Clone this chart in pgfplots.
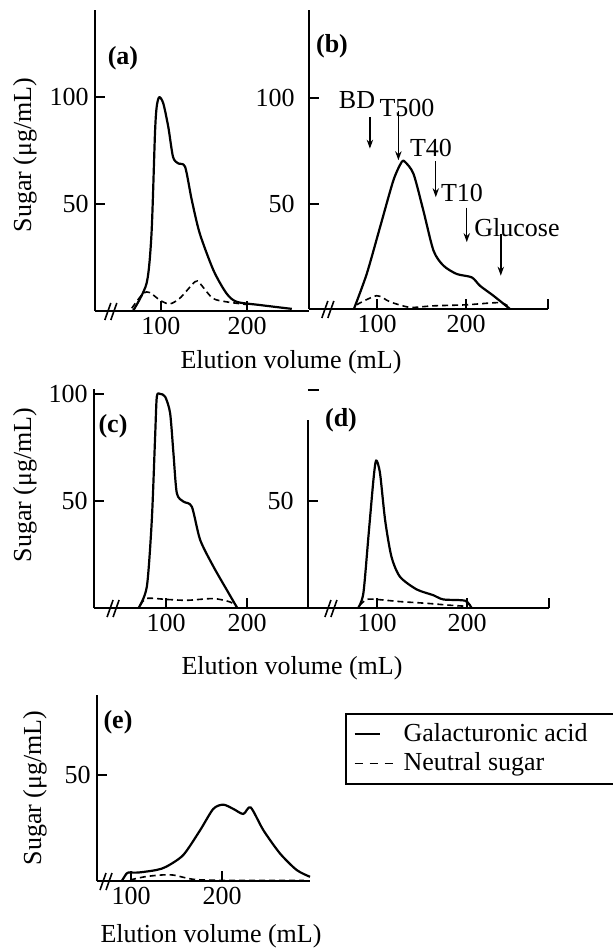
\documentclass[border=0pt]{standalone}
\usepackage{fontspec}
\setmainfont{Liberation Serif}
\usepackage{pgfplots}
\pgfplotsset{compat=1.18}
\usetikzlibrary{arrows.meta}
\pgfplotsset{
  panel/.style={
    scale only axis, anchor=south west, clip=false,
    axis lines*=left,
    axis line style={line width=1.2pt},
    tick align=inside,
    major tick length=5pt,
    every tick/.style={black, line width=1pt},
    ymin=0, xtick={100,200},
    /pgf/number format/assume math mode=true,
    font=\fontsize{13}{15.6}\selectfont,
    yticklabel style={inner xsep=3pt},
    xticklabel style={inner ysep=3pt},
  },
  ga/.style={black, line width=1.1pt, smooth, tension=0.45, line join=round},
  ns/.style={black, line width=0.8pt, smooth, tension=0.45, dash pattern=on 3pt off 2pt},
}
\newcommand\brk[1]{%
  \draw[line width=0.8pt] ([xshift=-4pt,yshift=-4.5pt]axis cs:#1,0) -- ([xshift=-1pt,yshift=4pt]axis cs:#1,0);
  \draw[line width=0.8pt] ([xshift=-1pt,yshift=-4.5pt]axis cs:#1,0) -- ([xshift=2pt,yshift=4pt]axis cs:#1,0);}
\tikzset{arr/.style={-{Stealth[length=4.5pt,width=3.2pt]}, line width=0.7pt}}
\begin{document}
\begin{tikzpicture}[font=\fontsize{13}{15.6}\selectfont]
\path[use as bounding box] (0pt,0pt) rectangle (306.5pt,-475pt);

% (a)
\begin{axis}[panel, at={(47.5pt,-155.5pt)}, width=107pt, height=150.5pt,
  xmin=23.3, xmax=272, ymax=140.7, ytick={50,100}]
\addplot[ga] coordinates {(67.4,0)(83.3,13)(89,36.4)(93,83)(95,95.5)(98,100)(102.7,97)(108.5,86)(114,72)(120,69)(128,67.4)(135.7,52)(145,36.3)(161,19)(176,8.3)(188,4.3)(215,2.8)(252,1)};
\addplot[ns] coordinates {(66,1.3)(79.4,8.3)(87,8.6)(99,5)(110,3.3)(122,6)(139.5,13.7)(145,13)(160,6)(176,4.3)(200,3)};
\brk{44}
\end{axis}

% (b)
\begin{axis}[panel, at={(154.5pt,-154.5pt)}, width=119.5pt, height=149.5pt,
  xmin=23.6, xmax=292, ymax=141.7, ytick={50,100},
  extra x ticks={292}, extra x tick labels={},
  yticklabel style={xshift=-4pt}]
\addplot[ga] coordinates {(74,0)(88.4,16.6)(103.4,38.8)(118.4,61)(127.7,69.7)(131.5,69.7)(141,64)(152,46.7)(163.4,27.7)(174.5,20.6)(189.5,16.6)(206.4,15)(215.7,11)(230.7,6.3)(249.4,0)};
\addplot[ns] coordinates {(77,2)(99.6,6.3)(114.6,3.4)(137,0.8)(163,1.5)(200.8,2)(238,3)(250,0.5)};
\draw[arr] (axis cs:92,91) -- (axis cs:92,76);
\draw[arr] (axis cs:124,94) -- (axis cs:124,70.5);
\draw[arr] (axis cs:166,70) -- (axis cs:166,53);
\draw[arr] (axis cs:200.8,48) -- (axis cs:200.8,31.7);
\draw[arr] (axis cs:239,35.7) -- (axis cs:239,15.8);
\brk{47}
\end{axis}

% (c)
\begin{axis}[panel, at={(47pt,-304pt)}, width=107pt, height=109.5pt,
  xmin=11, xmax=275, ymax=102.3, ytick={50,100}]
\addplot[ga] coordinates {(66,0)(76.2,10)(82.3,41)(86.4,80)(88.5,98.7)(92.6,100)(98.8,98.7)(104.9,91)(109,72.3)(113.2,53.6)(121.4,49.7)(131.7,47.3)(142,31.8)(158.4,19.3)(174.9,8.4)(187.3,0.3)};
\addplot[ns] coordinates {(67.9,1.3)(76.2,4.5)(100.9,4)(125.6,3.6)(158.4,4.4)(179,2.8)(187.3,0.6)};
\brk{37}
\end{axis}

% (d)
\begin{axis}[panel, at={(154pt,-304pt)}, width=120.5pt, height=94pt,
  xmin=23.3, xmax=291, ymax=87.9, ytick={50},
  extra x ticks={291}, extra x tick labels={},
  yticklabel style={xshift=-4pt}]
\addplot[ga] coordinates {(79,0)(84.8,6.9)(90.4,33.3)(96,60)(99,69)(103.3,63)(109,41)(116,24)(125.5,14.6)(144,8.7)(162.5,6)(173.7,4)(197.8,3.4)(205,0)};
\addplot[ns] coordinates {(80.7,1.3)(88.5,4)(100,4)(125.5,3)(155,2.2)(181,1.3)(199.6,0.8)};
\draw[line width=1pt] (axis cs:23.3,102) -- ++(5.5pt,0pt);
\brk{51}
\end{axis}

% (e)
\begin{axis}[panel, at={(48.5pt,-440.5pt)}, width=106.5pt, height=93pt,
  xmin=62.6, xmax=296.7, ymax=87.7, ytick={50},
  legend cell align=left,
  legend style={at={(1.164,0.903)}, anchor=north west, draw=black, line width=0.8pt,
    inner xsep=4pt, inner ysep=3pt, row sep=0pt,
    font=\fontsize{13}{15.6}\selectfont}]
\addlegendimage{legend image code/.code={\draw[black, line width=1pt] (0pt,0pt) -- (12.5pt,0pt); \path (22pt,0pt);}}
\addlegendentry{Galacturonic acid\kern12pt}
\addlegendimage{legend image code/.code={\draw[black, line width=0.8pt, dash pattern=on 4pt off 3.5pt] (0pt,0pt) -- (22pt,0pt);}}
\addlegendentry{Neutral sugar}
\addplot[ga, forget plot] coordinates {(89.8,0)(95,3.5)(97,4)(108,4)(128,5.2)(139,6.8)(157.5,12.3)(176,24)(190.4,34)(201.4,36)(212.4,34)(223.4,31.6)(231.5,34.7)(245.4,24)(263.7,13)(282,5.2)(296.7,2)};
\addplot[ns, forget plot] coordinates {(99,0.5)(115,2)(132,2.8)(146.5,2.8)(168.5,0.8)(200,0.3)(290,0.3)};
\brk{74.7}
\end{axis}

% axis titles
\node[rotate=90] at (12.5pt,-77.5pt) {Sugar (μg/mL)};
\node[rotate=90] at (12.5pt,-242.5pt) {Sugar (μg/mL)};
\node[rotate=90] at (17.5pt,-394pt) {Sugar (μg/mL)};
\node at (145.5pt,-181pt) {Elution volume (mL)};
\node at (146pt,-334pt) {Elution volume (mL)};
\node at (105.5pt,-468pt) {Elution volume (mL)};

% panel labels
\node at (61.5pt,-29pt) {\textbf{(a)}};
\node at (166pt,-23pt) {\textbf{(b)}};
\node at (56.5pt,-213pt) {\textbf{(c)}};
\node at (170.5pt,-210pt) {\textbf{(d)}};
\node at (59pt,-361pt) {\textbf{(e)}};

% standards in (b)
\node at (178.5pt,-50pt) {BD};
\node at (203.5pt,-54pt) {T500};
\node at (215.5pt,-74pt) {T40};
\node at (231pt,-96.5pt) {T10};
\node at (258.5pt,-114pt) {Glucose};
\end{tikzpicture}
\end{document}
